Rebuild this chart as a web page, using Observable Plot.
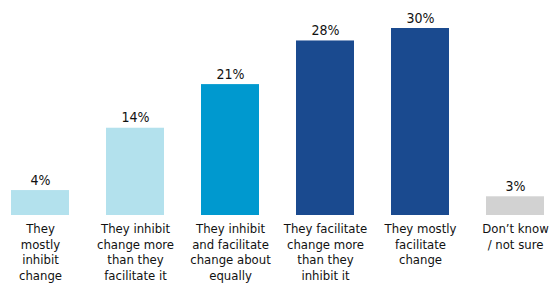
<!DOCTYPE html>
<html>
<head>
<meta charset="utf-8">
<script src="https://cdn.jsdelivr.net/npm/d3@7"></script>
<script src="https://cdn.jsdelivr.net/npm/@observablehq/plot@0.6"></script>
<style>
  html, body { margin: 0; padding: 0; background: #fff; }
  #chart svg { display: block; }
</style>
</head>
<body>
<div id="chart"></div>
<script>
const categories = [
  "They\nmostly\ninhibit\nchange",
  "They inhibit\nchange more\nthan they\nfacilitate it",
  "They inhibit\nand facilitate\nchange about\nequally",
  "They facilitate\nchange more\nthan they\ninhibit it",
  "They mostly\nfacilitate\nchange",
  "Don\u2019t know\n/ not sure"
];
const values = [4, 14, 21, 28, 30, 3];
const palette = ["#b3e1ed", "#b3e1ed", "#0099cf", "#1a4a8f", "#1a4a8f", "#d2d2d2"];

const data = categories.map((c, i) => ({category: c, value: values[i], color: palette[i]}));
const font = "'DejaVu Sans Condensed', 'Liberation Sans Narrow', sans-serif";

const chart = Plot.plot({
  width: 555,
  height: 289,
  marginLeft: 10,
  marginRight: 10,
  marginTop: 28,
  marginBottom: 74,
  style: {fontFamily: font, background: "#fff"},
  x: {domain: categories, paddingInner: 0.392, paddingOuter: 0, axis: null},
  y: {domain: [0, 30], axis: null},
  marks: [
    Plot.barY(data, {x: "category", y: "value", fill: "color"}),
    Plot.text(data, {x: "category", y: "value", text: d => d.value + "%", dy: -6, lineAnchor: "bottom", fontSize: 14, fill: "#111"}),
    Plot.text(data, {x: "category", y: 0, text: "category", dy: 7, lineAnchor: "top", fontSize: 13, lineHeight: 1.19, fill: "#111"})
  ]
});
document.getElementById("chart").appendChild(chart);
</script>
</body>
</html>
